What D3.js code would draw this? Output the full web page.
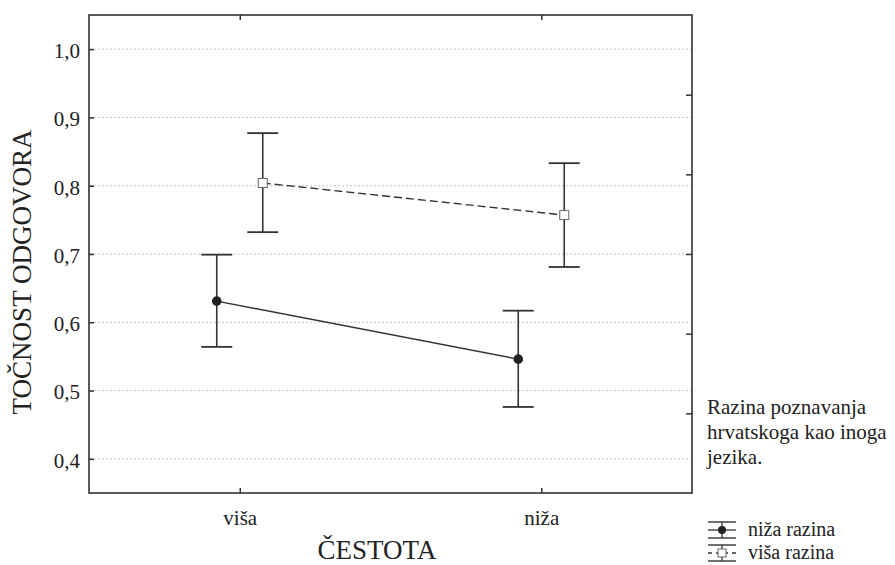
<!DOCTYPE html>
<html>
<head>
<meta charset="utf-8">
<script src="https://cdn.jsdelivr.net/npm/d3@7"></script>
<style>
  html, body { margin: 0; padding: 0; background: #fff; }
  svg { display: block; font-family: "Liberation Serif", serif; }
  svg text { font-family: "Liberation Serif", serif !important; fill: #222; }
</style>
</head>
<body>
<svg id="chart" width="895" height="565"></svg>
<script>
// ---- data ----
const categories = ["viša", "niža"];              // ČESTOTA
const seriesNames = ["niža razina", "viša razina"];
const means  = { "niža razina": [0.631, 0.546], "viša razina": [0.804, 0.757] };
const lower  = { "niža razina": [0.564, 0.476], "viša razina": [0.732, 0.681] };
const upper  = { "niža razina": [0.699, 0.617], "viša razina": [0.877, 0.833] };
const yTicks = [0.4, 0.5, 0.6, 0.7, 0.8, 0.9, 1.0];
const yTitle = "TOČNOST ODGOVORA";
const xTitle = "ČESTOTA";
const legendTitle = ["Razina poznavanja", "hrvatskoga kao inoga", "jezika."];

// ---- layout ----
const FONT = "Liberation Serif";
const svg = d3.select("#chart");
const L = 89, R = 692, T = 15, B = 493;
const ink = "#333";

const x = d3.scalePoint().domain(categories).range([L, R]).padding(0.5);
const dodge = d3.scalePoint().domain(seriesNames).range([-23, 23]);
const y = d3.scaleLinear().domain([0.35, 1.05]).range([B, T]);
const yRight = d3.scaleLinear().domain([0, 6]).range([B, T]);

const fmt = d => d3.format(".1f")(d).replace(".", ",");

// gridlines
svg.append("g").selectAll("line").data(yTicks).join("line")
  .attr("x1", L + 1).attr("x2", R - 1)
  .attr("y1", d => y(d)).attr("y2", d => y(d))
  .attr("stroke", "#c4c4c4").attr("stroke-width", 1)
  .attr("stroke-dasharray", "2,2");

// left axis (ticks inside)
const gl = svg.append("g").attr("transform", `translate(${L},0)`)
  .call(d3.axisLeft(y).tickValues(yTicks).tickSize(-5).tickPadding(9).tickFormat(fmt));
gl.attr("font-family", FONT);
gl.select(".domain").remove();
gl.selectAll(".tick line").attr("stroke", ink).attr("stroke-width", 1.5);
gl.selectAll(".tick text").attr("font-size", 21).attr("fill", "#222")
  .attr("font-family", FONT).attr("dy", "0.4em");

// right axis ticks (inside)
const gr = svg.append("g").attr("transform", `translate(${R},0)`)
  .call(d3.axisRight(yRight).tickValues([1, 2, 3, 4, 5]).tickSize(-6).tickFormat(""));
gr.select(".domain").remove();
gr.selectAll(".tick line").attr("stroke", ink).attr("stroke-width", 1.5);

// bottom axis
const gb = svg.append("g").attr("transform", `translate(0,${B})`)
  .call(d3.axisBottom(x).tickSize(-5).tickPadding(17));
gb.attr("font-family", FONT);
gb.select(".domain").remove();
gb.selectAll(".tick line").attr("stroke", ink).attr("stroke-width", 1.5);
gb.selectAll(".tick text").attr("font-size", 21).attr("fill", "#222")
  .attr("font-family", FONT);

// top axis ticks
const gt = svg.append("g").attr("transform", `translate(0,${T})`)
  .call(d3.axisTop(x).tickSize(-5).tickFormat(""));
gt.select(".domain").remove();
gt.selectAll(".tick line").attr("stroke", ink).attr("stroke-width", 1.5);

// frame
svg.append("rect").attr("x", L).attr("y", T).attr("width", R - L).attr("height", B - T)
  .attr("fill", "none").attr("stroke", ink).attr("stroke-width", 1.6);

// axis titles
svg.append("text").attr("transform", `translate(31,${272}) rotate(-90)`)
  .attr("text-anchor", "middle").attr("font-size", 27).attr("font-family", FONT).text(yTitle);
svg.append("text").attr("x", 377).attr("y", 559)
  .attr("text-anchor", "middle").attr("font-size", 27).attr("font-family", FONT).text(xTitle);

// series
const capW = 15.5;
const styles = {
  "niža razina": { dash: null },
  "viša razina": { dash: "8,4" }
};
seriesNames.forEach(s => {
  const pts = categories.map((c, i) => ({ c, i, m: means[s][i], lo: lower[s][i], hi: upper[s][i], px: x(c) + dodge(s) }));
  const g = svg.append("g");
  g.append("path").datum(pts)
    .attr("d", d3.line().x(d => d.px).y(d => y(d.m)))
    .attr("fill", "none").attr("stroke", ink).attr("stroke-width", 1.4)
    .attr("stroke-dasharray", styles[s].dash);
  const eb = g.selectAll("g.eb").data(pts).join("g").attr("class", "eb");
  eb.append("line").attr("x1", d => d.px).attr("x2", d => d.px)
    .attr("y1", d => y(d.lo)).attr("y2", d => y(d.hi))
    .attr("stroke", ink).attr("stroke-width", 1.6);
  eb.append("line").attr("x1", d => d.px - capW).attr("x2", d => d.px + capW)
    .attr("y1", d => y(d.hi)).attr("y2", d => y(d.hi))
    .attr("stroke", ink).attr("stroke-width", 1.8);
  eb.append("line").attr("x1", d => d.px - capW).attr("x2", d => d.px + capW)
    .attr("y1", d => y(d.lo)).attr("y2", d => y(d.lo))
    .attr("stroke", ink).attr("stroke-width", 1.8);
  if (s === "niža razina") {
    eb.append("circle").attr("cx", d => d.px).attr("cy", d => y(d.m)).attr("r", 4.8)
      .attr("fill", "#222");
  } else {
    eb.append("rect").attr("x", d => d.px - 4.5).attr("y", d => y(d.m) - 4.5)
      .attr("width", 9).attr("height", 9)
      .attr("fill", "#fff").attr("stroke", "#666").attr("stroke-width", 1);
  }
});

// legend
const lg = svg.append("g").attr("font-family", FONT);
legendTitle.forEach((t, i) => {
  lg.append("text").attr("x", 707).attr("y", 414 + i * 25).attr("font-size", 21)
    .attr("font-family", FONT).text(t);
});
const rowY = [530, 553];
seriesNames.forEach((s, i) => {
  const cy = rowY[i];
  const cx = 722;
  const row = lg.append("g");
  row.append("line").attr("x1", cx - 14).attr("x2", cx + 14).attr("y1", cy - 8).attr("y2", cy - 8)
    .attr("stroke", ink).attr("stroke-width", 1.4);
  row.append("line").attr("x1", cx - 14).attr("x2", cx + 14).attr("y1", cy + 8).attr("y2", cy + 8)
    .attr("stroke", ink).attr("stroke-width", 1.4);
  row.append("line").attr("x1", cx).attr("x2", cx).attr("y1", cy - 8).attr("y2", cy + 8)
    .attr("stroke", ink).attr("stroke-width", 1.3);
  row.append("line").attr("x1", cx - 14).attr("x2", cx + 14).attr("y1", cy).attr("y2", cy)
    .attr("stroke", ink).attr("stroke-width", 1.3).attr("stroke-dasharray", styles[s].dash ? "4,4" : null);
  if (i === 0) {
    row.append("circle").attr("cx", cx).attr("cy", cy).attr("r", 4).attr("fill", "#222");
  } else {
    row.append("rect").attr("x", cx - 4).attr("y", cy - 4).attr("width", 8).attr("height", 8)
      .attr("fill", "#fff").attr("stroke", "#666").attr("stroke-width", 1);
  }
  row.append("text").attr("x", 748).attr("y", cy + 6).attr("font-size", 20)
    .attr("font-family", FONT).text(s);
});
</script>
</body>
</html>
